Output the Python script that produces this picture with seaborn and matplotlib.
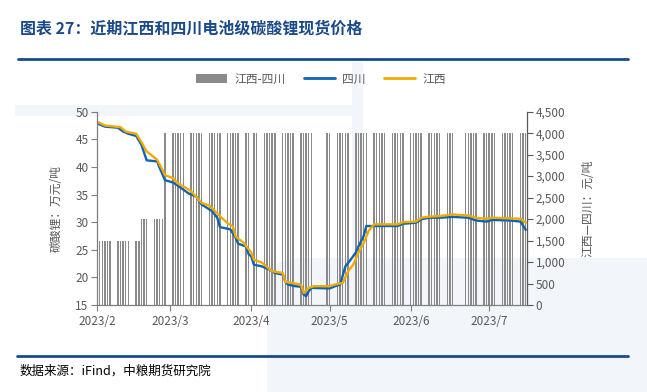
import matplotlib
matplotlib.use("Agg")
import matplotlib.pyplot as plt
import seaborn as sns
import pandas as pd
from matplotlib.patches import FancyBboxPatch, Rectangle, Patch
from matplotlib.lines import Line2D
from matplotlib.ticker import FuncFormatter

# ---------------- data ----------------
sichuan_dates = ["2023-02-05", "2023-02-08", "2023-02-13", "2023-02-15", "2023-02-17", "2023-02-20",
                 "2023-02-22", "2023-02-24", "2023-02-28", "2023-03-01", "2023-03-03", "2023-03-06",
                 "2023-03-07", "2023-03-10", "2023-03-12", "2023-03-15", "2023-03-17", "2023-03-21",
                 "2023-03-23", "2023-03-24", "2023-03-28", "2023-03-30", "2023-03-31", "2023-04-03",
                 "2023-04-04", "2023-04-05", "2023-04-06", "2023-04-09", "2023-04-12", "2023-04-14",
                 "2023-04-17", "2023-04-18", "2023-04-19", "2023-04-22", "2023-04-24", "2023-04-25",
                 "2023-04-26", "2023-04-27", "2023-04-28", "2023-05-05", "2023-05-07", "2023-05-09",
                 "2023-05-11", "2023-05-13", "2023-05-15", "2023-05-16", "2023-05-18", "2023-05-19",
                 "2023-05-22", "2023-05-31", "2023-06-02", "2023-06-07", "2023-06-09", "2023-06-12",
                 "2023-06-16", "2023-06-21", "2023-06-27", "2023-06-30", "2023-07-04", "2023-07-06",
                 "2023-07-13", "2023-07-17", "2023-07-19"]
sichuan = [47.9, 47.3, 47.1, 46.4, 46.0, 45.6,
           44.0, 41.2, 41.0, 39.8, 37.6, 37.2,
           36.9, 35.9, 35.2, 34.6, 33.2, 32.0,
           30.8, 29.1, 28.7, 27.2, 26.1, 25.6,
           24.2, 23.8, 22.3, 22.0, 21.4, 20.8,
           20.5, 19.3, 18.7, 18.4, 18.3, 16.9,
           16.6, 17.5, 18.1, 18.0, 18.4, 18.7,
           22.0, 23.2, 24.5, 25.6, 27.5, 29.3,
           29.3, 29.3, 29.7, 29.9, 30.5, 30.8,
           30.8, 30.95, 30.8, 30.3, 30.1, 30.4,
           30.3, 30.1, 28.6]

jiangxi_dates = ["2023-02-05", "2023-02-08", "2023-02-14", "2023-02-16", "2023-02-20", "2023-02-22",
                 "2023-02-24", "2023-02-28", "2023-03-02", "2023-03-03", "2023-03-06", "2023-03-08",
                 "2023-03-11", "2023-03-13", "2023-03-17", "2023-03-20", "2023-03-24", "2023-03-27",
                 "2023-03-29", "2023-03-30", "2023-04-02", "2023-04-05", "2023-04-06", "2023-04-09",
                 "2023-04-13", "2023-04-17", "2023-04-18", "2023-04-24", "2023-04-25", "2023-04-27",
                 "2023-04-29", "2023-05-05", "2023-05-07", "2023-05-10", "2023-05-12", "2023-05-14",
                 "2023-05-16", "2023-05-18", "2023-05-20", "2023-05-22", "2023-05-31", "2023-06-02",
                 "2023-06-07", "2023-06-09", "2023-06-12", "2023-06-16", "2023-06-21", "2023-06-27",
                 "2023-06-30", "2023-07-04", "2023-07-06", "2023-07-13", "2023-07-17", "2023-07-19"]
jiangxi = [48.2, 47.5, 47.2, 46.4, 46.0, 44.5,
           42.8, 41.3, 39.5, 38.5, 38.0, 37.0,
           36.2, 35.6, 33.5, 33.0, 31.1, 29.8,
           29.2, 27.4, 26.3, 24.5, 23.2, 22.7,
           21.1, 20.8, 19.2, 18.7, 17.2, 18.1,
           18.4, 18.4, 18.7, 19.0, 21.1, 22.3,
           24.5, 26.2, 28.5, 29.6, 29.6, 30.0,
           30.1, 30.8, 31.0, 31.1, 31.4, 31.2,
           30.8, 30.6, 30.8, 30.7, 30.6, 29.9]

# spread bars (江西-四川, 元/吨): constant levels by period, on trading days
spread_period_start = ["2023-02-06", "2023-02-22", "2023-03-03"]
spread_level = [1500, 2000, 4000]
spread_last_day = "2023-07-19"
non_trading_days = ["2023-04-05", "2023-05-01", "2023-05-02", "2023-05-03", "2023-06-22", "2023-06-23"]

tick_dates = ["2023-02-05", "2023-03-05", "2023-04-05", "2023-05-05", "2023-06-05", "2023-07-05"]
tick_labels = ["2023/2", "2023/3", "2023/4", "2023/5", "2023/6", "2023/7"]

# ---------------- build frames ----------------
df_sc = pd.DataFrame({"date": pd.to_datetime(sichuan_dates), "price": sichuan})
df_jx = pd.DataFrame({"date": pd.to_datetime(jiangxi_dates), "price": jiangxi})

days = pd.bdate_range(spread_period_start[0], spread_last_day)
days = days[~days.isin(pd.to_datetime(non_trading_days))]
starts = pd.to_datetime(spread_period_start)
levels = []
for d in days:
    lvl = spread_level[0]
    for s, v in zip(starts, spread_level):
        if d >= s:
            lvl = v
    levels.append(lvl)
df_sp = pd.DataFrame({"date": days, "spread": levels})

# ---------------- style ----------------
sns.set_theme(style="white")
plt.rcParams['font.family'] = ['Noto Sans CJK SC', 'DejaVu Sans']
plt.rcParams['axes.unicode_minus'] = False

BLUE = "#0E63B4"
ORANGE = "#F2A900"
GRAY = "#8A8A8A"
NAVY = "#1B4A8A"
TXT = "#595959"

W, H = 647, 392
fig = plt.figure(figsize=(W / 100, H / 100), dpi=100)
fig.patch.set_facecolor("white")


def fx(px):
    return px / W


def fy(py):
    return 1 - py / H


# faint watermark shapes (behind everything)
wm = "#F2F6FB"
fig.patches.append(FancyBboxPatch((fx(267), fy(420)), fx(420), fy(258) - fy(420),
                                  boxstyle="round,pad=0,rounding_size=0.06",
                                  transform=fig.transFigure, facecolor=wm, edgecolor="none", zorder=-10))
fig.patches.append(Rectangle((fx(15), fy(116)), fx(343), fy(105) - fy(116),
                             transform=fig.transFigure, facecolor=wm, edgecolor="none", zorder=-10))
fig.patches.append(Rectangle((fx(352), fy(258)), fx(11), fy(62) - fy(258),
                             transform=fig.transFigure, facecolor=wm, edgecolor="none", zorder=-10))

ax = fig.add_axes([fx(97), fy(305), fx(527.3 - 97), (305 - 111.7) / H])
axb = ax.twinx()
ax.set_zorder(axb.get_zorder() + 1)
ax.patch.set_visible(False)
axb.patch.set_visible(False)

# bars on right axis
axb.bar(df_sp["date"], df_sp["spread"], width=0.55, color=GRAY, linewidth=0)

# lines on left axis
sns.lineplot(data=df_sc, x="date", y="price", ax=ax, color=BLUE, linewidth=1.7, legend=False)
sns.lineplot(data=df_jx, x="date", y="price", ax=ax, color=ORANGE, linewidth=1.7, legend=False)

ax.set_xlim(pd.Timestamp("2023-02-05"), pd.Timestamp("2023-07-19 14:00"))
ax.set_ylim(15, 50)
ax.set_yticks(range(15, 51, 5))
axb.set_ylim(0, 4500)
axb.set_yticks(range(0, 4501, 500))
axb.yaxis.set_major_formatter(FuncFormatter(lambda v, p: f"{int(v):,}"))
ax.set_xticks(pd.to_datetime(tick_dates))
ax.set_xticklabels(tick_labels)

for a in (ax, axb):
    for s in a.spines.values():
        s.set_visible(False)
ax.spines["left"].set_visible(True)
ax.spines["bottom"].set_visible(True)
axb.spines["right"].set_visible(True)
ax.spines["left"].set_color("#7F7F7F")
ax.spines["bottom"].set_color("#7F7F7F")
axb.spines["right"].set_color("#595959")
for s in (ax.spines["left"], ax.spines["bottom"], axb.spines["right"]):
    s.set_linewidth(0.9)

ax.tick_params(axis="y", left=True, direction="out", length=4, width=0.8, color="#7F7F7F",
               labelsize=8.5, labelcolor=TXT, pad=2)
ax.tick_params(axis="x", bottom=True, direction="out", length=4, width=0.8, color="#7F7F7F",
               labelsize=8.5, labelcolor=TXT, pad=3)
axb.tick_params(axis="y", right=True, direction="out", length=4, width=0.8, color="#595959",
                labelsize=8.5, labelcolor=TXT, pad=2)

ax.set_xlabel("")
ax.set_ylabel("碳酸锂：万元/吨", fontsize=8.5, color=TXT)
ax.yaxis.set_label_coords(-0.081, 0.5)
axb.set_ylabel("江西—四川：元/吨", fontsize=8.5, color=TXT, rotation=90)
axb.yaxis.set_label_coords(1.127, 0.5)

# legend
handles = [Patch(facecolor=GRAY, edgecolor="none"),
           Line2D([], [], color=BLUE, lw=2),
           Line2D([], [], color=ORANGE, lw=2)]
fig.legend(handles, ["江西-四川", "四川", "江西"], loc="center", bbox_to_anchor=(fx(321), fy(79)),
           ncol=3, frameon=False, fontsize=8.5, handlelength=2.6, columnspacing=1.6,
           handletextpad=0.6, labelcolor=TXT)

# title and rules
fig.text(fx(20), fy(28), "图表 27：近期江西和四川电池级碳酸锂现货价格", fontsize=11.5, fontweight="bold",
         color=NAVY, ha="left", va="center")
fig.add_artist(Line2D([fx(18), fx(628)], [fy(59), fy(59)], color=NAVY, lw=2, transform=fig.transFigure))
fig.add_artist(Line2D([fx(17), fx(628)], [fy(355.7), fy(355.7)], color=NAVY, lw=2, transform=fig.transFigure))
fig.text(fx(20), fy(371.5), "数据来源：iFind，中粮期货研究院", fontsize=9, style="italic",
         color="black", ha="left", va="center")

fig.savefig("out.png", dpi=100)
